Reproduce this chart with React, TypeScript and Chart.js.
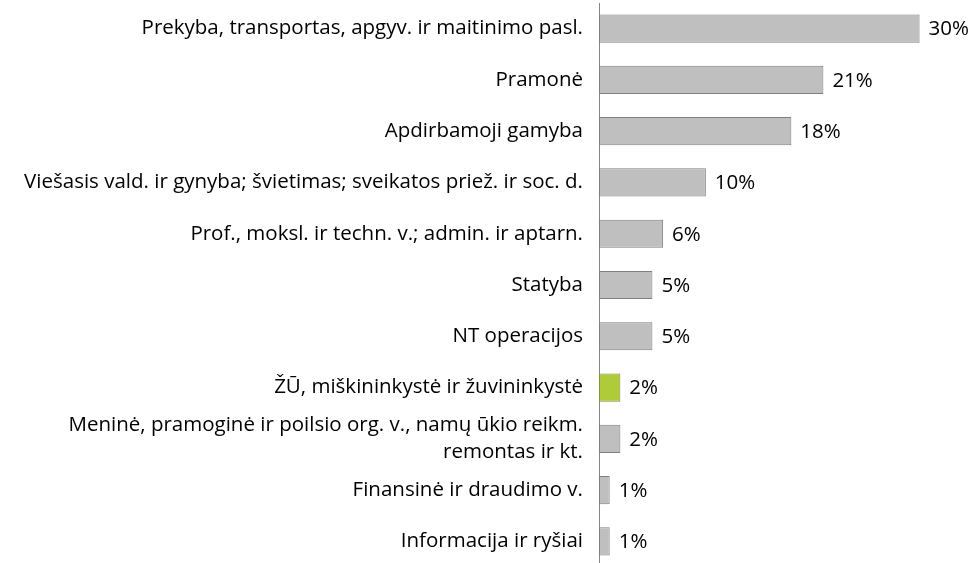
import React, { useEffect, useRef } from "react";
import { Chart, registerables } from "chart.js";

Chart.register(...registerables);

const categories: (string | string[])[] = [
  "Prekyba, transportas, apgyv. ir maitinimo pasl.",
  "Pramonė",
  "Apdirbamoji gamyba",
  "Viešasis vald. ir gynyba; švietimas; sveikatos priež. ir soc. d.",
  "Prof., moksl. ir techn. v.; admin. ir aptarn.",
  "Statyba",
  "NT operacijos",
  "ŽŪ, miškininkystė ir žuvininkystė",
  ["Meninė, pramoginė ir poilsio org. v., namų ūkio reikm.", "remontas ir kt."],
  "Finansinė ir draudimo v.",
  "Informacija ir ryšiai",
];

const values: number[] = [30, 21, 18, 10, 6, 5, 5, 2, 2, 1, 1];
const valueLabels: string[] = ["30%", "21%", "18%", "10%", "6%", "5%", "5%", "2%", "2%", "1%", "1%"];
const highlightIndex = 7;

const FONT = "'Open Sans', sans-serif";
const FONT_SIZE = 20.5;

const valueLabelPlugin = {
  id: "valueLabels",
  afterDatasetsDraw(chart: any) {
    const { ctx } = chart;
    const meta = chart.getDatasetMeta(0);
    ctx.save();
    ctx.font = `${FONT_SIZE}px ${FONT}`;
    ctx.fillStyle = "#000000";
    ctx.textAlign = "left";
    ctx.textBaseline = "middle";
    meta.data.forEach((bar: any, i: number) => {
      ctx.fillText(valueLabels[i], bar.x + 9, bar.y + 1);
    });
    ctx.restore();
  },
};

export default function App() {
  const ref = useRef<HTMLCanvasElement>(null);
  useEffect(() => {
    document.body.style.margin = "0";
    const chart = new Chart(ref.current!, {
      type: "bar",
      data: {
        labels: categories as any,
        datasets: [
          {
            data: values,
            backgroundColor: values.map((_, i) => (i === highlightIndex ? "#AFCB3A" : "#BFBFBF")),
            borderColor: values.map((_, i) => (i === highlightIndex ? "#7F8F45" : "#7F7F7F")),
            borderWidth: 1,
            borderSkipped: false,
            categoryPercentage: 1,
            barPercentage: 0.55,
          },
        ],
      },
      options: {
        indexAxis: "y",
        animation: false,
        responsive: true,
        maintainAspectRatio: false,
        layout: { padding: { top: 3, bottom: 0, left: 0, right: 0 } },
        plugins: { legend: { display: false }, tooltip: { enabled: false } },
        scales: {
          x: { display: false, min: 0, max: 35 },
          y: {
            grid: { display: false },
            border: { display: true, color: "#868686", width: 1 },
            ticks: {
              color: "#000000",
              padding: 8,
              autoSkip: false,
              font: { family: FONT, size: FONT_SIZE, lineHeight: 1.3 },
            },
            afterFit: (scale: any) => {
              scale.width = 599;
              scale.paddingTop = 0;
              scale.paddingBottom = 0;
            },
          },
        },
      },
      plugins: [valueLabelPlugin],
    });
    return () => chart.destroy();
  }, []);
  return (
    <div style={{ width: 973, height: 563, overflow: "hidden", background: "#fff" }}>
      <div style={{ position: "relative", width: 973, height: 567 }}>
        <canvas ref={ref} />
      </div>
    </div>
  );
}
